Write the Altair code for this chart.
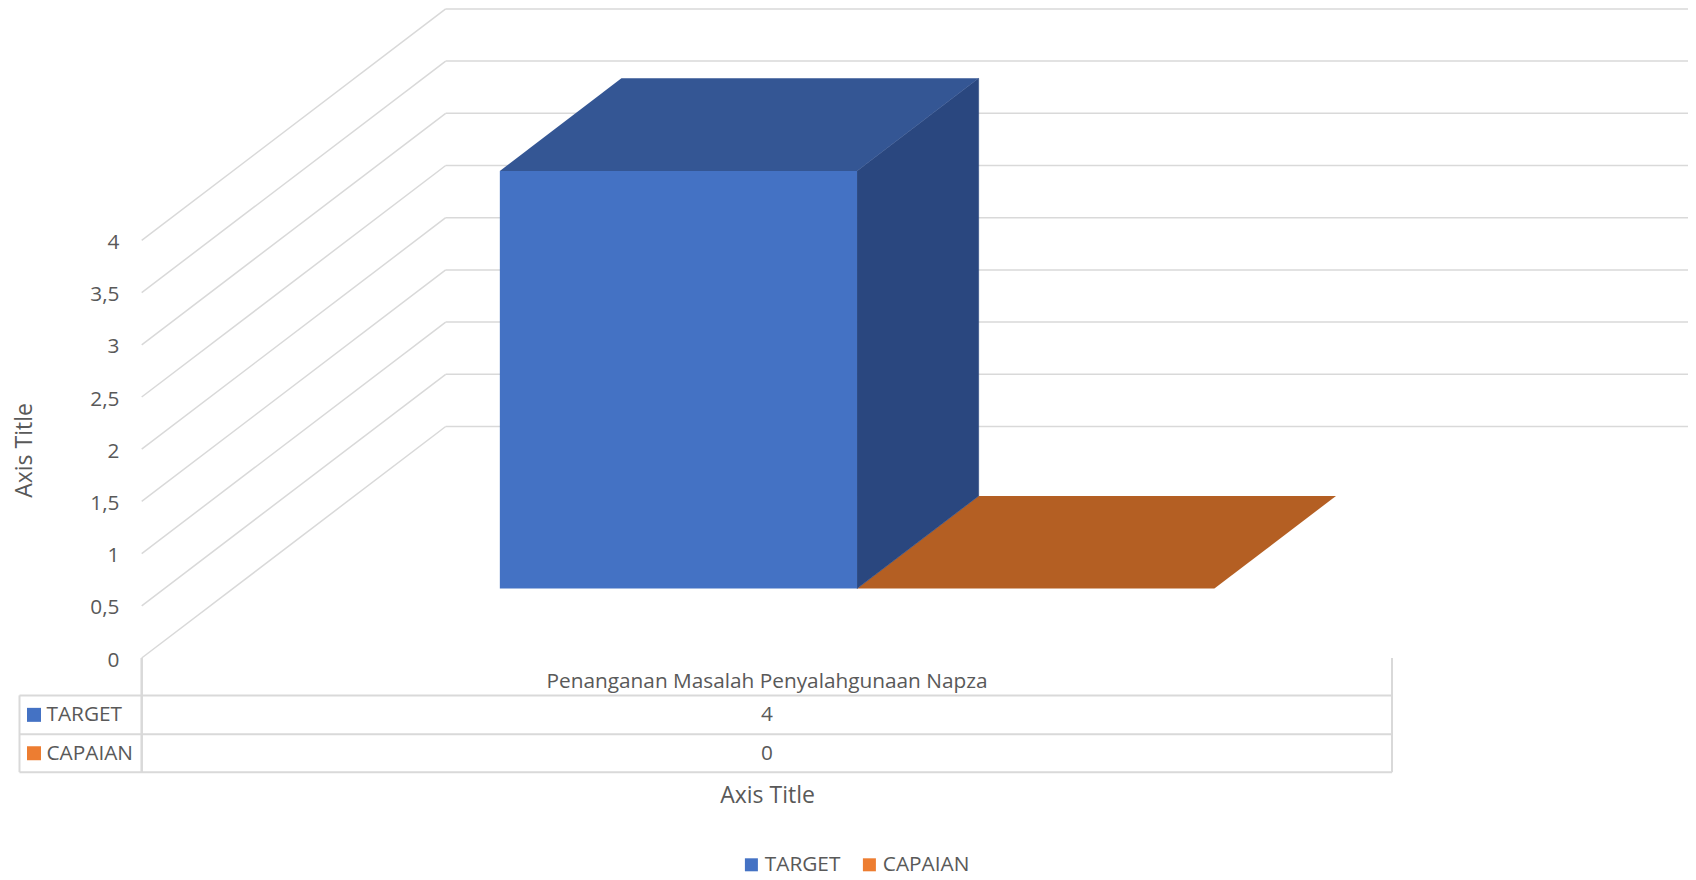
import altair as alt
import pandas as pd

# ---- values
series = ["TARGET", "CAPAIAN"]
values = [4, 0]
category = "Penanganan Masalah Penyalahgunaan Napza"
grid_values = [0, 0.5, 1, 1.5, 2, 2.5, 3, 3.5, 4]
front_colors = ["#4472C4", "#ED7D31"]
top_colors = ["#345694", "#B45F23"]
side_colors = ["#2A477F", "#8F4B1B"]
cat_bounds = [(0.2135, 0.4992), (0.4992, 0.785)]
bar_depth = (0.3, 0.7)

# ---- layout of the oblique projection (page pixels)
W, H = 1680, 864
ORIGIN_X, ORIGIN_Y = 141.7 - 8, 658.0 - 8
CAT_PX = 1250.3
VAL_PX = 104.4
DEPTH_DX = 304.0 / CAT_PX   # category units per full depth
DEPTH_DY = 231.5 / VAL_PX   # value units per full depth
x_domain = [-ORIGIN_X / CAT_PX, (W - ORIGIN_X) / CAT_PX]
y_domain = [-(H - ORIGIN_Y) / VAL_PX, ORIGIN_Y / VAL_PX]
x_scale = alt.Scale(domain=x_domain, nice=False, zero=False)
y_scale = alt.Scale(domain=y_domain, nice=False, zero=False)


def px(c, d):
    return c + d * DEPTH_DX


def py(v, d):
    return v + d * DEPTH_DY


FONT = "Open Sans"
TXT = "#595959"
GRID = "#D9D9D9"
FS = 20.8

# ---- walls
wall = pd.DataFrame(
    [dict(v=v, x0=px(0, 0), y0=py(v, 0), x1=px(0, 1), y1=py(v, 1), x2=px(1, 1)) for v in grid_values]
)
base = alt.Chart(wall)
side_wall = base.mark_rule(color=GRID, strokeWidth=1.5).encode(
    x=alt.X("x0:Q", scale=x_scale,
            axis=alt.Axis(title="Axis Title", labels=False, ticks=False, domain=False, grid=False,
                          titleFont=FONT, titleFontSize=23, titleFontWeight="normal", titleColor=TXT,
                          titleX=759, titleY=-88, titleAnchor="middle", titleAlign="center")),
    x2="x1:Q",
    y=alt.Y("y0:Q", scale=y_scale,
            axis=alt.Axis(title="Axis Title", values=grid_values, offset=-111, domain=False, ticks=False,
                          grid=False, labelFont=FONT, labelFontSize=FS, labelColor=TXT, labelPadding=0,
                          labelOffset=2,
                          labelExpr="replace(toString(datum.value), '.', ',')",
                          titleFont=FONT, titleFontSize=23, titleFontWeight="normal", titleColor=TXT,
                          titleX=-83, titleY=442, titleAngle=270)),
    y2="y1:Q",
)
back_wall = base.mark_rule(color=GRID, strokeWidth=1.5).encode(
    x=alt.X("x1:Q", scale=x_scale), x2="x2:Q", y=alt.Y("y1:Q", scale=y_scale)
)

# ---- bars
front_rows, layers_bars = [], []
for i in [1, 0]:
    c0, c1 = cat_bounds[i]
    d0, d1 = bar_depth
    v = values[i]
    top = pd.DataFrame(
        [dict(y=py(v, d), a=px(c0, d), b=px(c1, d)) for d in (d0, d1)]
    )
    side = pd.DataFrame(
        [dict(x=px(c1, d), y=py(v, d), y0=py(0, d)) for d in (d0, d1)]
    )
    if v > 0:
        layers_bars.append(
            alt.Chart(side).mark_area(color=side_colors[i], stroke=side_colors[i], strokeWidth=0.6,
                                      orient="vertical").encode(
                x=alt.X("x:Q", scale=x_scale), y=alt.Y("y:Q", scale=y_scale), y2="y0:Q"
            )
        )
    layers_bars.append(
        alt.Chart(top).mark_area(color=top_colors[i], orient="horizontal").encode(
            y=alt.Y("y:Q", scale=y_scale), x=alt.X("a:Q", scale=x_scale), x2="b:Q"
        )
    )
    front_rows.append(dict(series=series[i], x0=px(c0, d0), x1=px(c1, d0), y0=py(0, d0), y1=py(v, d0)))

front = alt.Chart(pd.DataFrame(front_rows)).mark_rect().encode(
    x=alt.X("x0:Q", scale=x_scale), x2="x1:Q",
    y=alt.Y("y0:Q", scale=y_scale), y2="y1:Q",
    color=alt.Color(
        "series:N",
        scale=alt.Scale(domain=series, range=front_colors),
        legend=alt.Legend(
            orient="none", legendX=733, legendY=846, direction="horizontal", title=None,
            symbolType="square", symbolSize=169, symbolStrokeWidth=0,
            labelFont=FONT, labelFontSize=FS, labelColor=TXT, columnPadding=18, labelOffset=3,
        ),
    ),
)

# ---- data table (page-pixel layout minus the 8px margin)
TX0, TX1, TX2 = 11.5, 133.7, 1384
TROWS = [687.4, 726.3, 764.2]
TTOP = 650.0


def hline(y, a, b, w=2):
    return alt.Chart(pd.DataFrame({"k": [0]})).mark_rule(color=GRID, strokeWidth=w).encode(
        x=alt.value(a), x2=alt.value(b), y=alt.value(y)
    )


def vline(x, a, b, w=2):
    return alt.Chart(pd.DataFrame({"k": [0]})).mark_rule(color=GRID, strokeWidth=w).encode(
        x=alt.value(x), y=alt.value(a), y2=alt.value(b)
    )


table = [hline(y, TX0, TX2) for y in TROWS]
table += [vline(TX0, TROWS[0], TROWS[2]), vline(TX1, TTOP, TROWS[2], 2.5), vline(TX2, TTOP, TROWS[2])]


def text(s, x, y, size=FS, align="left"):
    return alt.Chart(pd.DataFrame({"t": [s]})).mark_text(
        font=FONT, fontSize=size, color=TXT, align=align, baseline="middle"
    ).encode(text="t:N", x=alt.value(x), y=alt.value(y))


CX = 759
cells = [text(category, CX, 674, FS, "center")]
for i, s in enumerate(series):
    yc = (TROWS[i] + TROWS[i + 1]) / 2
    cells.append(
        alt.Chart(pd.DataFrame({"series": [s]})).mark_square(size=196, color=front_colors[i], opacity=1).encode(
            x=alt.value(26), y=alt.value(yc)
        )
    )
    cells.append(text(s, 38.5, yc + 0.5))
    cells.append(text(str(values[i]), CX, yc + 0.5, FS, "center"))

chart = alt.layer(
    side_wall, back_wall, *layers_bars, front, *table, *cells
).properties(
    width=W, height=H, padding=0, autosize=alt.AutoSizeParams(type="none")
).configure_view(stroke=None)

chart.save("out.html", embed_options={"renderer": "svg", "actions": False})
